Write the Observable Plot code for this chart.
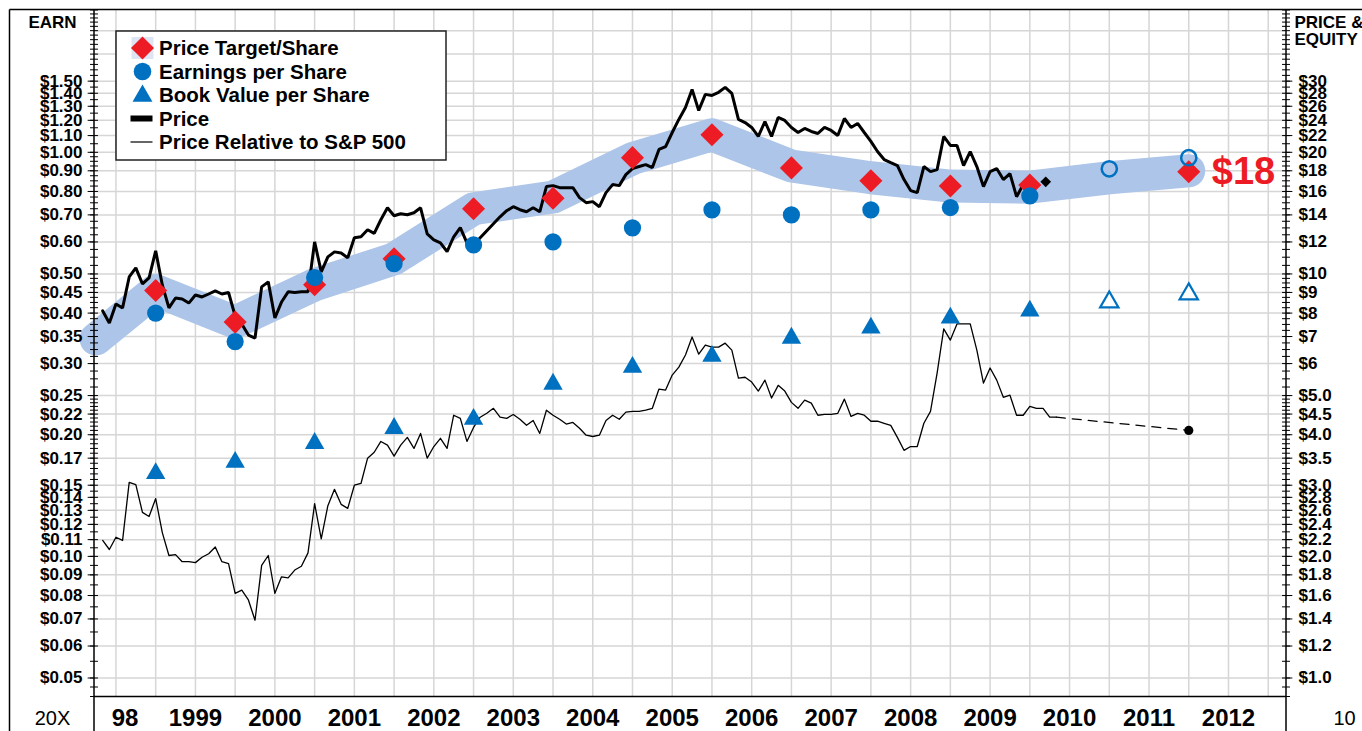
<!DOCTYPE html>
<html>
<head>
<meta charset="utf-8">
<script src="https://cdn.jsdelivr.net/npm/d3@7"></script>
<script src="https://cdn.jsdelivr.net/npm/@observablehq/plot@0.6"></script>
<style>
  html, body { margin: 0; padding: 0; background: #fff; }
  #chart svg { display: block; }
</style>
</head>
<body>
<div id="chart"></div>
<script>
// ---------------- DATA ----------------
const actualYears = [1998, 1999, 2000, 2001, 2002, 2003, 2004, 2005, 2006, 2007, 2008, 2009];
const estimateYears = [2010, 2011];
const targetYears = [1998, 1999, 2000, 2001, 2002, 2003, 2004, 2005, 2006, 2007, 2008, 2009, 2011];
const targetPerShare = [9.1, 7.6, 9.4, 10.9, 14.5, 15.4, 19.4, 22.1, 18.3, 17.0, 16.5, 16.6, 17.9];
const epsActual = [0.40, 0.34, 0.49, 0.53, 0.59, 0.60, 0.65, 0.72, 0.70, 0.72, 0.73, 0.78];
const epsEstimate = [0.91, 0.97];
const bookActual = [3.21, 3.42, 3.81, 4.15, 4.37, 5.34, 5.88, 6.26, 6.94, 7.35, 7.78, 8.10];
const bookEstimate = [8.52, 8.92];
const bandYears = [1998, 1999, 2000, 2001, 2002, 2003, 2004, 2005, 2006, 2007, 2008, 2009, 2010, 2011];
const bandStart = 6.9;
const bandValues = [9.1, 7.6, 9.4, 10.9, 14.5, 15.5, 19.3, 22.1, 18.5, 17.3, 16.5, 16.4, 17.3, 18.0];
// monthly series, first month = May 1998
const firstMonth = {year: 1998, month: 5};
const monthlyPrice = [
  8.10, 7.56, 8.43, 8.24, 9.83, 10.35, 9.45, 9.78, 11.41, 9.39, 8.24, 8.72,
  8.67, 8.47, 8.87, 8.77, 8.92, 9.08, 8.92, 9.00, 7.87, 7.52, 7.06, 6.94,
  9.29, 9.56, 7.78, 8.52, 9.03, 9.00, 9.03, 9.03, 12.0, 10.12, 11.02, 11.34,
  11.27, 10.96, 12.29, 12.36, 12.86, 12.6, 13.62, 14.58, 13.93, 14.09, 14.01, 14.17,
  14.58, 12.57, 12.15, 11.94, 11.35, 12.36, 13.02, 11.94, 11.80, 12.29, 12.79, 13.31,
  13.85, 14.34, 14.67, 14.42, 14.25, 14.58, 14.25, 16.45, 16.54, 16.35, 16.35, 16.35,
  15.45, 15.01, 15.10, 14.67, 15.89, 16.64, 16.54, 17.61, 18.23, 18.44, 18.65, 18.33,
  20.33, 20.67, 22.39, 24.12, 25.83, 28.62, 25.39, 27.82, 27.66, 28.15, 28.96, 27.98,
  24.12, 23.70, 23.04, 21.89, 23.84, 21.89, 24.39, 23.98, 23.04, 22.39, 22.91, 22.52,
  22.27, 23.04, 22.65, 22.01, 24.25, 23.04, 23.57, 22.39, 21.28, 20.09, 19.19, 18.86,
  18.55, 17.12, 16.08, 15.89, 18.44, 17.92, 18.12, 21.89, 20.80, 20.80, 18.55, 20.09,
  18.44, 16.45, 17.92, 18.23, 17.12, 17.72, 15.53, 16.64, 16.8
];
const relativeToSP500 = [
  2.19, 2.08, 2.23, 2.19, 3.05, 3.01, 2.57, 2.51, 2.78, 2.29, 2.01, 2.02,
  1.94, 1.94, 1.93, 1.99, 2.03, 2.11, 1.94, 1.92, 1.62, 1.65, 1.56, 1.39,
  1.90, 2.01, 1.62, 1.78, 1.77, 1.85, 1.89, 2.04, 2.70, 2.21, 2.67, 2.93,
  2.69, 2.63, 3.00, 3.03, 3.50, 3.62, 3.85, 3.77, 3.54, 3.77, 3.94, 3.70,
  4.03, 3.50, 3.74, 3.92, 3.70, 4.47, 4.39, 3.85, 4.17, 4.42, 4.52, 4.65,
  4.42, 4.39, 4.49, 4.37, 4.22, 4.34, 4.03, 4.60, 4.47, 4.37, 4.25, 4.29,
  4.15, 3.99, 3.96, 3.99, 4.34, 4.47, 4.37, 4.55, 4.57, 4.57, 4.60, 4.65,
  5.19, 5.16, 5.62, 5.88, 6.30, 6.98, 6.33, 6.67, 6.59, 6.59, 6.74, 6.48,
  5.52, 5.55, 5.40, 5.13, 5.46, 4.93, 5.30, 5.13, 4.81, 4.65, 4.87, 4.79,
  4.47, 4.49, 4.49, 4.52, 4.90, 4.44, 4.52, 4.47, 4.32, 4.32, 4.27, 4.22,
  3.94, 3.66, 3.74, 3.74, 4.27, 4.57, 5.68, 7.31, 6.86, 7.52, 7.52, 7.52,
  6.48, 5.37, 5.85, 5.46, 4.95, 5.01, 4.47, 4.47, 4.70, 4.65, 4.65, 4.42, 4.42
];
const relativeProjectionYear = 2011;
const relativeProjection = 4.10;
const latestPriceDate = 2010.2;
const latestPrice = 16.9;
const earnMultiple = 20;  // EARN axis = PRICE axis / 20
const priceTicks = [1.0, 1.2, 1.4, 1.6, 1.8, 2.0, 2.2, 2.4, 2.6, 2.8, 3.0, 3.5, 4.0, 4.5, 5.0,
  6, 7, 8, 9, 10, 12, 14, 16, 18, 20, 22, 24, 26, 28, 30];
const priceLabels = ["$1.0","$1.2","$1.4","$1.6","$1.8","$2.0","$2.2","$2.4","$2.6","$2.8","$3.0",
  "$3.5","$4.0","$4.5","$5.0","$6","$7","$8","$9","$10","$12","$14","$16","$18","$20","$22",
  "$24","$26","$28","$30"];
const earnLabels = ["$0.05","$0.06","$0.07","$0.08","$0.09","$0.10","$0.11","$0.12","$0.13","$0.14",
  "$0.15","$0.17","$0.20","$0.22","$0.25","$0.30","$0.35","$0.40","$0.45","$0.50","$0.60","$0.70",
  "$0.80","$0.90","$1.00","$1.10","$1.20","$1.30","$1.40","$1.50"];
const extraGrid = [35, 40];
const yearLabels = ["98","1999","2000","2001","2002","2003","2004","2005","2006","2007","2008","2009","2010","2011","2012"];
const legendItems = ["Price Target/Share", "Earnings per Share", "Book Value per Share", "Price", "Price Relative to S&P 500"];

// ---------------- SETUP ----------------
const RED = "#ed1c24", BLUE = "#0070c0", BAND = "#adc5e8", GRID = "#d6d6d6";
const FONT = "'Liberation Sans', Arial, Helvetica, sans-serif";
const xDomain = [1998.23, 2013.23];
const yDomain = [0.9, 45];
const yearEnd = fy => fy + 1;
const monthT = i => firstMonth.year + (firstMonth.month - 1 + i) / 12;

const priceData = monthlyPrice.map((v, i) => ({t: monthT(i), v}));
const relData = relativeToSP500.map((v, i) => ({t: monthT(i), v}));
const relLast = relData[relData.length - 1];
const projData = [relLast, {t: yearEnd(relativeProjectionYear), v: relativeProjection}];
const bandData = [{t: xDomain[0] + 0.02, v: bandStart}, ...bandYears.map((y, i) => ({t: yearEnd(y), v: bandValues[i]}))];
const targets = targetYears.map((y, i) => ({t: yearEnd(y), v: targetPerShare[i]}));
const epsA = actualYears.map((y, i) => ({t: yearEnd(y), v: epsActual[i] * earnMultiple}));
const epsE = estimateYears.map((y, i) => ({t: yearEnd(y), v: epsEstimate[i] * earnMultiple}));
const bvA = actualYears.map((y, i) => ({t: yearEnd(y), v: bookActual[i]}));
const bvE = estimateYears.map((y, i) => ({t: yearEnd(y), v: bookEstimate[i]}));
const yearCenters = yearLabels.map((s, i) => {
  const start = Math.max(1998 + i, xDomain[0]);
  return {label: s, t: (start + 1999 + i) / 2};
});
const minorTicks = [0.9, 0.95, ...d3.range(1.0, 5.0, 0.1), ...d3.range(5, 10, 0.25), ...d3.range(10, 20, 0.5), ...d3.range(20, 45.01, 1)];
const lastTarget = targets[targets.length - 1];

const plot = Plot.plot({
  width: 1362,
  height: 731,
  marginLeft: 94,
  marginRight: 76,
  marginTop: 9.5,
  marginBottom: 35,
  x: {domain: xDomain, axis: null},
  y: {type: "log", domain: yDomain, axis: null},
  style: {fontFamily: FONT, background: "white", overflow: "visible"},
  marks: [
    Plot.ruleX(d3.range(1998.5, 2013.01, 0.5), {stroke: GRID, strokeWidth: 1.5}),
    Plot.ruleY([...priceTicks, ...extraGrid], {stroke: GRID, strokeWidth: 1.5}),
    Plot.line(bandData, {x: "t", y: "v", stroke: BAND, strokeWidth: 33, strokeLinecap: "round", strokeLinejoin: "round"}),
    Plot.line(relData, {x: "t", y: "v", stroke: "black", strokeWidth: 1.3}),
    Plot.line(projData, {x: "t", y: "v", stroke: "black", strokeWidth: 1.3, strokeDasharray: "9,7"}),
    Plot.line(priceData, {x: "t", y: "v", stroke: "black", strokeWidth: 3, strokeLinejoin: "miter"}),
    Plot.dot(bvA, {x: "t", y: "v", symbol: "triangle", r: 7.2, fill: BLUE}),
    Plot.dot(bvE, {x: "t", y: "v", symbol: "triangle", r: 6.8, fill: "white", stroke: BLUE, strokeWidth: 2.2}),
    Plot.dot(targets, {x: "t", y: "v", symbol: "diamond2", r: 10.4, fill: RED}),
    Plot.dot(epsA, {x: "t", y: "v", symbol: "circle", r: 8.6, fill: BLUE}),
    Plot.dot(epsE, {x: "t", y: "v", symbol: "circle", r: 7.6, fill: "none", stroke: BLUE, strokeWidth: 2.5}),
    Plot.dot([{t: latestPriceDate, v: latestPrice}], {x: "t", y: "v", symbol: "diamond2", r: 4.8, fill: "black"}),
    Plot.dot([projData[1]], {x: "t", y: "v", r: 4.6, fill: "black"}),
    Plot.text([lastTarget], {x: "t", y: "v", text: d => "$" + Math.round(d.v), dx: 23, textAnchor: "start", fill: RED, fontSize: 38, fontWeight: "bold"}),
    // bottom axis line
    Plot.ruleY([yDomain[0]], {stroke: "black", strokeWidth: 1.5}),
    // axis tick marks
    Plot.ruleY(minorTicks, {y: d => d, x1: xDomain[0] - 0.05, x2: xDomain[0] + 0.05, stroke: "black", strokeWidth: 1}),
    Plot.ruleY(minorTicks, {y: d => d, x1: xDomain[1] - 0.05, x2: xDomain[1] + 0.05, stroke: "black", strokeWidth: 1}),
    Plot.ruleY(priceTicks, {y: d => d, x1: xDomain[0] - 0.08, x2: xDomain[0], stroke: "black", strokeWidth: 1}),
    Plot.ruleY(priceTicks, {y: d => d, x1: xDomain[1], x2: xDomain[1] + 0.08, stroke: "black", strokeWidth: 1}),
    // tick labels
    Plot.text(priceTicks, {y: d => d, text: (d, i) => earnLabels[i], frameAnchor: "left", dx: -12, textAnchor: "end", fontSize: 17, fontWeight: "bold"}),
    Plot.text(priceTicks, {y: d => d, text: (d, i) => priceLabels[i], frameAnchor: "right", dx: 12, textAnchor: "start", fontSize: 17, fontWeight: "bold"}),
    Plot.text(yearCenters, {x: "t", text: "label", frameAnchor: "bottom", lineAnchor: "middle", dy: 22, fontSize: 24, fontWeight: "bold"}),
    Plot.text(["20X"], {frameAnchor: "bottom-left", lineAnchor: "middle", dx: -42, dy: 22, textAnchor: "middle", fontSize: 20}),
    Plot.text(["10"], {frameAnchor: "bottom-right", lineAnchor: "middle", dx: 47, dy: 22, textAnchor: "start", fontSize: 20}),
    Plot.text(["EARN"], {frameAnchor: "top-left", lineAnchor: "middle", dx: -42, dy: 13, textAnchor: "middle", fontSize: 17, fontWeight: "bold"}),
    Plot.text(["PRICE &"], {frameAnchor: "top-right", lineAnchor: "middle", dx: 8, dy: 13, textAnchor: "start", fontSize: 17, fontWeight: "bold"}),
    Plot.text(["EQUITY"], {frameAnchor: "top-right", lineAnchor: "middle", dx: 8, dy: 30, textAnchor: "start", fontSize: 17, fontWeight: "bold"})
  ]
});

// ---------------- frame lines and legend ----------------
const svg = d3.select(plot);
const sx = plot.scale("x"), sy = plot.scale("y");
const xL = sx.apply(xDomain[0]), xR = sx.apply(xDomain[1]);
const yTop = sy.apply(yDomain[1]);
const W = 1362, H = 731;
const frame = svg.append("g").attr("stroke", "black").attr("stroke-width", 1.5);
frame.append("line").attr("x1", xL).attr("x2", xL).attr("y1", yTop).attr("y2", H);
frame.append("line").attr("x1", xR).attr("x2", xR).attr("y1", yTop).attr("y2", H);
frame.append("line").attr("x1", 9.5).attr("x2", W).attr("y1", yTop).attr("y2", yTop);
frame.append("line").attr("x1", 9.5).attr("x2", 9.5).attr("y1", yTop).attr("y2", H);

const lg = svg.append("g").attr("font-family", FONT);
lg.append("rect").attr("x", 116).attr("y", 31).attr("width", 330).attr("height", 129)
  .attr("fill", "white").attr("stroke", "#222").attr("stroke-width", 1.5);
const rowY = i => 48 + i * 23.5;
const sxm = 142.5;
lg.append("rect").attr("x", sxm - 11).attr("y", rowY(0) - 11).attr("width", 22).attr("height", 22).attr("fill", "#dde5f4");
lg.append("path").attr("d", d3.symbol(d3.symbolDiamond2, Math.PI * 10.4 * 10.4)()).attr("transform", `translate(${sxm},${rowY(0)})`).attr("fill", RED);
lg.append("circle").attr("cx", sxm).attr("cy", rowY(1)).attr("r", 8.8).attr("fill", BLUE);
lg.append("path").attr("d", d3.symbol(d3.symbolTriangle, Math.PI * 7.4 * 7.4)()).attr("transform", `translate(${sxm},${rowY(2) + 1})`).attr("fill", BLUE);
lg.append("line").attr("x1", sxm - 12).attr("x2", sxm + 10).attr("y1", rowY(3)).attr("y2", rowY(3)).attr("stroke", "black").attr("stroke-width", 6);
lg.append("line").attr("x1", sxm - 12).attr("x2", sxm + 10).attr("y1", rowY(4)).attr("y2", rowY(4)).attr("stroke", "black").attr("stroke-width", 1.2);
legendItems.forEach((s, i) => {
  lg.append("text").attr("x", 159).attr("y", rowY(i)).attr("dy", "0.35em")
    .attr("text-anchor", "start")
    .attr("font-size", 20.5).attr("font-weight", "bold").attr("fill", "black").text(s);
});

document.getElementById("chart").appendChild(plot);
</script>
</body>
</html>
